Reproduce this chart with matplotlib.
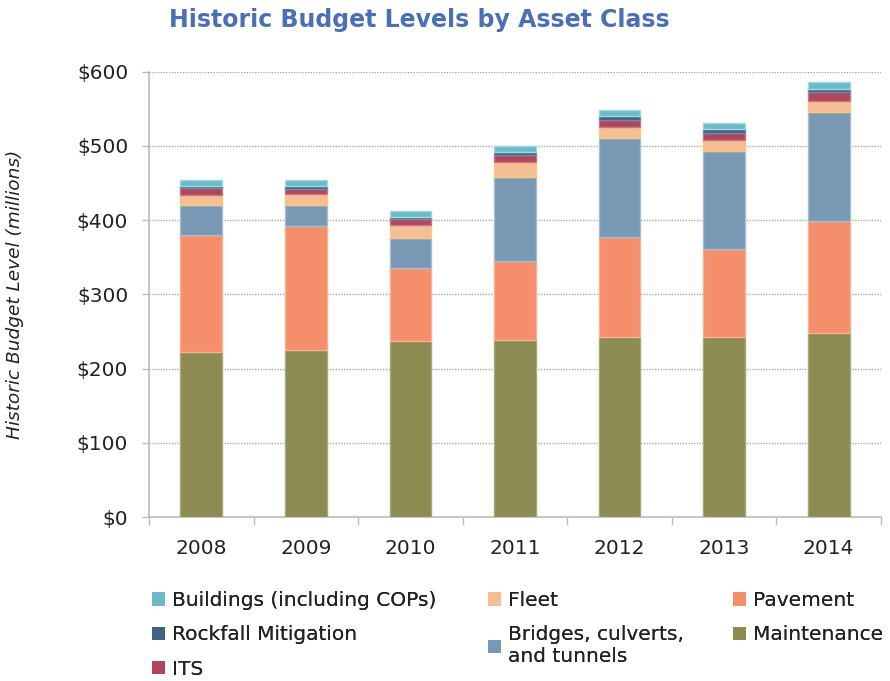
import matplotlib
matplotlib.use("Agg")
import matplotlib.pyplot as plt
from matplotlib.patches import Patch
import numpy as np

years = ["2008", "2009", "2010", "2011", "2012", "2013", "2014"]
maintenance = [222, 225, 237, 239, 242, 242, 248]
pavement = [158, 167, 98, 106, 135, 119, 151]
bridges = [40, 29, 41, 113, 133, 132, 147]
fleet = [14, 14, 18, 20, 15, 15, 14]
its = [9, 7, 7, 10, 10, 10, 12]
rockfall = [3, 4, 3.5, 3.5, 5, 5, 5]
buildings = [8, 8, 8, 9, 8, 8, 9]

series = [
    ("Maintenance", maintenance, "#8B8B52", "#A9A878"),
    ("Pavement", pavement, "#F58F6B", "#F9B092"),
    ("Bridges, culverts,\nand tunnels", bridges, "#7898B4", "#A5BDD2"),
    ("Fleet", fleet, "#F5BE94", "#FFC67E"),
    ("ITS", its, "#B0465D", "#C87585"),
    ("Rockfall Mitigation", rockfall, "#3F6285", "#6C8AA8"),
    ("Buildings (including COPs)", buildings, "#6DBAC7", "#A2D8E0"),
]

plt.rcParams['font.family'] = ['DejaVu Sans']
fig = plt.figure(figsize=(8.9, 6.81), dpi=100)
ax = fig.add_axes([149/890, 1-517/681, (881-149)/890, (517-71.7)/681])

x = np.arange(len(years))
bottom = np.zeros(len(years))
handles = {}
for name, vals, col, ec in series:
    v = np.array(vals, dtype=float)
    ax.bar(x, v, width=0.4, bottom=bottom, color=col, edgecolor=ec, linewidth=1.0, zorder=3)
    bottom += v
    handles[name] = Patch(facecolor=col, edgecolor='none')

ax.set_xlim(-0.5, len(years) - 0.5)
ax.set_ylim(0, 600)
ax.set_yticks(np.arange(0, 601, 100))
ax.set_yticklabels([f"${v}" for v in range(0, 601, 100)], fontsize=14.5, color="#222222")
ax.set_xticks(x)
ax.set_xticklabels(years, fontsize=14.5, color="#222222")
ax.set_xticks(np.arange(-0.5, len(years), 1.0), minor=True)
ax.tick_params(axis='x', which='major', length=0, pad=16)
ax.tick_params(axis='x', which='minor', length=6, color="#BBBBBB", width=1)
ax.tick_params(axis='y', length=5, color="#BBBBBB", width=1, pad=10)
for yv in range(100, 601, 100):
    ax.axhline(yv, color="#AAAAAA", linestyle=(0, (1, 1)), linewidth=1.0, zorder=1)
for s in ['top', 'right']:
    ax.spines[s].set_visible(False)
ax.spines['left'].set_color("#BBBBBB")
ax.spines['bottom'].set_color("#BBBBBB")
ax.spines['left'].set_linewidth(1.2)
ax.spines['bottom'].set_linewidth(1.2)

ax.set_ylabel("Historic Budget Level (millions)", fontsize=13.3, style='italic', color="#222222")
ax.yaxis.set_label_coords((24 - 149) / 732, 0.5)

fig.text(419/890, 1-20/681, "Historic Budget Levels by Asset Class", ha='center', va='center',
         fontsize=17, fontweight='bold', color="#4A6FB5")

legend_cols = [
    (["Buildings (including COPs)", "Rockfall Mitigation", "ITS"], 152),
    (["Fleet", "Bridges, culverts,\nand tunnels"], 488),
    (["Pavement", "Maintenance"], 733),
]
for names, xpx in legend_cols:
    leg = fig.legend([handles[n] for n in names], names, loc='upper left',
                     bbox_to_anchor=(xpx/890, 1-591/681), frameon=False, fontsize=14.5,
                     handlelength=0.65, handleheight=0.65, handletextpad=0.35,
                     labelspacing=0.76, borderpad=0, borderaxespad=0)
    for t in leg.get_texts():
        t.set_color("#222222")
    fig.add_artist(leg)

fig.savefig("out.png", dpi=100)
